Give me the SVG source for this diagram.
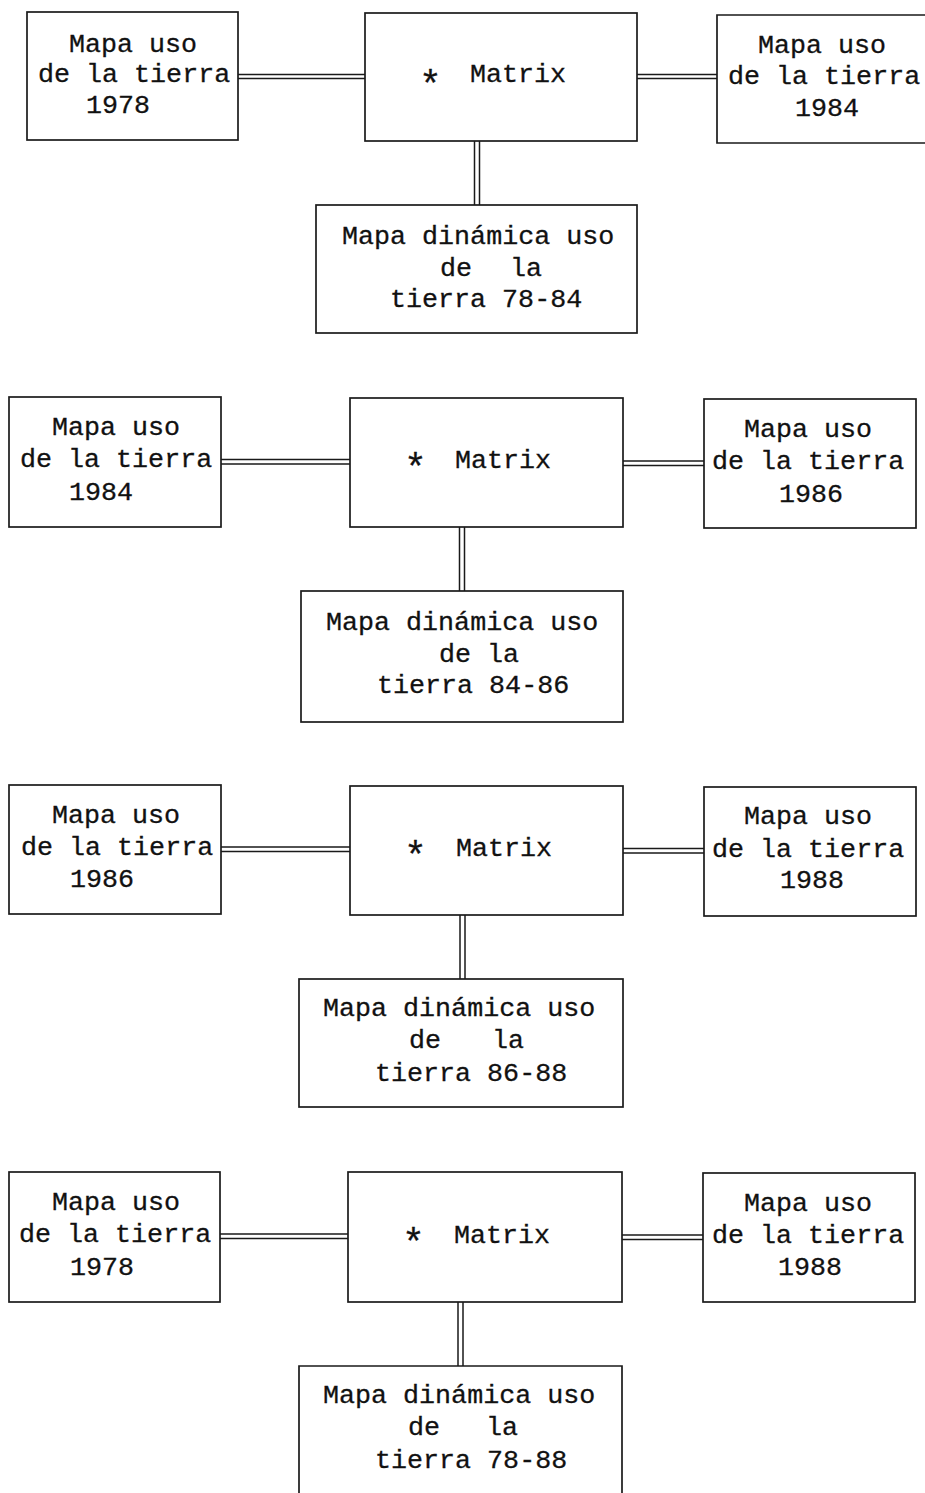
<svg xmlns="http://www.w3.org/2000/svg" width="925" height="1493" viewBox="0 0 925 1493">
<style>
.box{fill:none;stroke:#1a1a1a;stroke-width:1.7}
.c{stroke:#1a1a1a;stroke-width:1.5;fill:none}
.t{font-family:"Liberation Mono","Courier New",monospace;font-size:26.7px;fill:#111;stroke:#111;stroke-width:0.3}
.ast{font-size:38px}
</style>
<rect width="925" height="1493" fill="#ffffff"/>

<g id="connectors">
<path class="c" d="M238 74.5H365M238 78.5H365"/>
<path class="c" d="M637 74.5H717M637 78.5H717"/>
<path class="c" d="M474.5 141V205M479.5 141V205"/>
<path class="c" d="M221 459.5H350M221 464H350"/>
<path class="c" d="M623 461H704M623 465.5H704"/>
<path class="c" d="M459.5 527V591M464.5 527V591"/>
<path class="c" d="M221 847H350M221 851.5H350"/>
<path class="c" d="M623 848.5H704M623 853H704"/>
<path class="c" d="M460 915V979M465 915V979"/>
<path class="c" d="M220 1234H348M220 1238.5H348"/>
<path class="c" d="M622 1235H703M622 1239.5H703"/>
<path class="c" d="M458 1302V1366M463 1302V1366"/>
</g>

<g id="s1-left">
<rect class="box" x="27" y="12" width="211" height="128"/>
<text class="t" x="69" y="52">Mapa uso</text>
<text class="t" x="38" y="82">de la tierra</text>
<text class="t" x="86" y="113">1978</text>
</g>
<g id="s1-matrix">
<rect class="box" x="365" y="13" width="272" height="128"/>
<text class="t"><tspan class="ast" x="419" y="97">*</tspan><tspan x="470" y="82">Matrix</tspan></text>
</g>
<g id="s1-right">
<path class="box" d="M930 15H717V143H930"/>
<text class="t" x="758" y="53">Mapa uso</text>
<text class="t" x="728" y="84">de la tierra</text>
<text class="t" x="795" y="116">1984</text>
</g>
<g id="s1-bottom">
<rect class="box" x="316" y="205" width="321" height="128"/>
<text class="t" x="342" y="244">Mapa dinámica uso</text>
<text class="t" y="276"><tspan x="440">de</tspan><tspan x="510">la</tspan></text>
<text class="t" x="390" y="307">tierra 78-84</text>
</g>

<g id="s2-left">
<rect class="box" x="9" y="397" width="212" height="130"/>
<text class="t" x="52" y="435">Mapa uso</text>
<text class="t" x="20" y="467">de la tierra</text>
<text class="t" x="69" y="500">1984</text>
</g>
<g id="s2-matrix">
<rect class="box" x="350" y="398" width="273" height="129"/>
<text class="t"><tspan class="ast" x="404" y="480">*</tspan><tspan x="455" y="468">Matrix</tspan></text>
</g>
<g id="s2-right">
<rect class="box" x="704" y="399" width="212" height="129"/>
<text class="t" x="744" y="437">Mapa uso</text>
<text class="t" x="712" y="469">de la tierra</text>
<text class="t" x="779" y="502">1986</text>
</g>
<g id="s2-bottom">
<rect class="box" x="301" y="591" width="322" height="131"/>
<text class="t" x="326" y="630">Mapa dinámica uso</text>
<text class="t" y="662"><tspan x="439">de</tspan><tspan x="487">la</tspan></text>
<text class="t" x="377" y="693">tierra 84-86</text>
</g>

<g id="s3-left">
<rect class="box" x="9" y="785" width="212" height="129"/>
<text class="t" x="52" y="823">Mapa uso</text>
<text class="t" x="21" y="855">de la tierra</text>
<text class="t" x="70" y="887">1986</text>
</g>
<g id="s3-matrix">
<rect class="box" x="350" y="786" width="273" height="129"/>
<text class="t"><tspan class="ast" x="404" y="868">*</tspan><tspan x="456" y="856">Matrix</tspan></text>
</g>
<g id="s3-right">
<rect class="box" x="704" y="787" width="212" height="129"/>
<text class="t" x="744" y="824">Mapa uso</text>
<text class="t" x="712" y="857">de la tierra</text>
<text class="t" x="780" y="888">1988</text>
</g>
<g id="s3-bottom">
<rect class="box" x="299" y="979" width="324" height="128"/>
<text class="t" x="323" y="1016">Mapa dinámica uso</text>
<text class="t" y="1048"><tspan x="409">de</tspan><tspan x="492">la</tspan></text>
<text class="t" x="375" y="1081">tierra 86-88</text>
</g>

<g id="s4-left">
<rect class="box" x="9" y="1172" width="211" height="130"/>
<text class="t" x="52" y="1210">Mapa uso</text>
<text class="t" x="19" y="1242">de la tierra</text>
<text class="t" x="70" y="1275">1978</text>
</g>
<g id="s4-matrix">
<rect class="box" x="348" y="1172" width="274" height="130"/>
<text class="t"><tspan class="ast" x="402" y="1255">*</tspan><tspan x="454" y="1243">Matrix</tspan></text>
</g>
<g id="s4-right">
<rect class="box" x="703" y="1173" width="212" height="129"/>
<text class="t" x="744" y="1211">Mapa uso</text>
<text class="t" x="712" y="1243">de la tierra</text>
<text class="t" x="778" y="1275">1988</text>
</g>
<g id="s4-bottom">
<path class="box" d="M299 1500V1366H622V1500"/>
<text class="t" x="323" y="1403">Mapa dinámica uso</text>
<text class="t" y="1435"><tspan x="408">de</tspan><tspan x="486">la</tspan></text>
<text class="t" x="375" y="1468">tierra 78-88</text>
</g>
</svg>
